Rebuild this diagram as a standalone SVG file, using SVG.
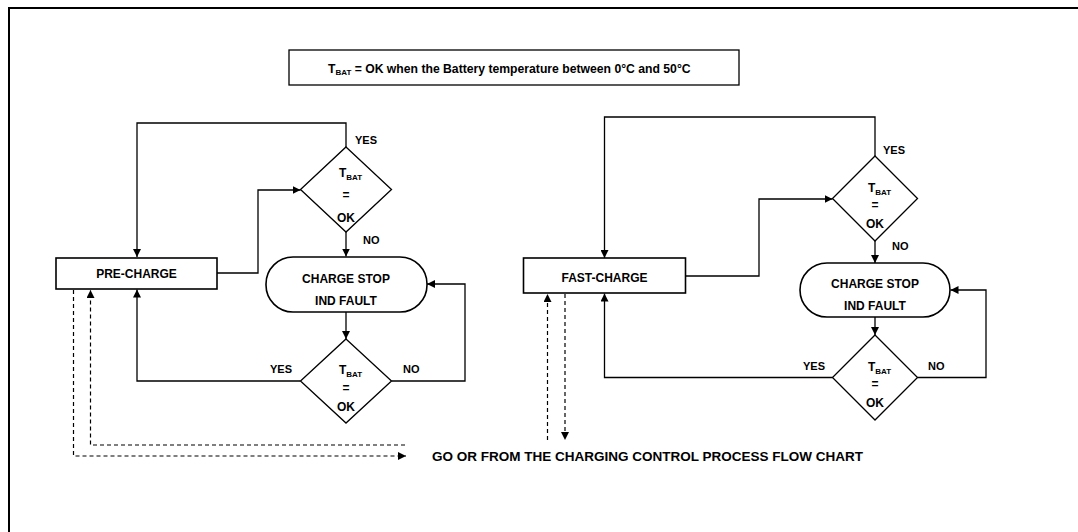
<svg xmlns="http://www.w3.org/2000/svg" width="1078" height="532" viewBox="0 0 1078 532">
<defs>
<style>
text{font-family:"Liberation Sans",Arial,sans-serif;font-weight:bold;fill:#000}
.box{fill:#fff;stroke:#000;stroke-width:1.6}
.dia{fill:#fff;stroke:#000;stroke-width:1.3}
.ln{fill:none;stroke:#000;stroke-width:1.3}
.dash{fill:none;stroke:#000;stroke-width:1.2;stroke-dasharray:4 3}
.lbl{font-size:11px}
.nd{font-size:12px}
.sub{font-size:8px}
</style>
<marker id="ah" viewBox="0 0 10 10" refX="10" refY="5" markerWidth="8" markerHeight="8" markerUnits="userSpaceOnUse" orient="auto">
<path d="M0,0 L10,5 L0,10 z" fill="#000"/>
</marker>
</defs>
<rect width="1078" height="532" fill="#fff"/>
<path d="M9,532 V8 H1078" fill="none" stroke="#000" stroke-width="2"/>

<g id="note">
<rect x="289" y="50" width="450" height="35" fill="#fff" stroke="#000" stroke-width="1.3"/>
<text x="328" y="72.5" font-size="12.2px">T<tspan class="sub" dy="2.5">BAT</tspan><tspan dy="-2.5"> = OK when the Battery temperature between 0°C and 50°C</tspan></text>
</g>

<g id="connectors">
<!-- left chart -->
<path class="ln" d="M346,147 V123 H137 V257" marker-end="url(#ah)"/>
<path class="ln" d="M217,273 H258 V190 H300.5" marker-end="url(#ah)"/>
<path class="ln" d="M346,232 V256.5" marker-end="url(#ah)"/>
<path class="ln" d="M346,312 V339" marker-end="url(#ah)"/>
<path class="ln" d="M300.5,381 H137 V289.5" marker-end="url(#ah)"/>
<path class="ln" d="M391.5,381 H465 V284 H427" marker-end="url(#ah)"/>
<path class="dash" d="M73.5,290 V456 H406" marker-end="url(#ah)"/>
<path class="dash" d="M405,445 H90.5 V290" marker-end="url(#ah)"/>
<!-- right chart -->
<path class="ln" d="M875,156 V117 H604.5 V258" marker-end="url(#ah)"/>
<path class="ln" d="M685.5,276 H759 V199 H832.5" marker-end="url(#ah)"/>
<path class="ln" d="M875,241 V263" marker-end="url(#ah)"/>
<path class="ln" d="M875,317 V335" marker-end="url(#ah)"/>
<path class="ln" d="M832.5,377.5 H604.5 V293.5" marker-end="url(#ah)"/>
<path class="ln" d="M917.5,377.5 H986 V290 H950.5" marker-end="url(#ah)"/>
<path class="dash" d="M547.5,440 V294" marker-end="url(#ah)"/>
<path class="dash" d="M565,294 V440" marker-end="url(#ah)"/>
</g>

<g id="pre-charge">
<rect class="box" x="56" y="258" width="161" height="31"/>
<text class="nd" x="136.5" y="278" text-anchor="middle" font-size="13px">PRE-CHARGE</text>
</g>

<g id="decision-left-1">
<path class="dia" d="M346,147 L391.5,189.5 L346,232 L300.5,189.5 Z"/>
<text class="nd" x="339" y="177">T<tspan class="sub" dy="2.5">BAT</tspan></text>
<text class="nd" x="346" y="198.5" text-anchor="middle">=</text>
<text class="nd" x="346" y="222" text-anchor="middle">OK</text>
<text class="lbl" x="355" y="144">YES</text>
<text class="lbl" x="363" y="243.5">NO</text>
</g>

<g id="stop-left">
<rect class="box" x="266" y="257" width="161" height="55" rx="27" ry="27"/>
<text class="nd" x="346" y="282.5" text-anchor="middle">CHARGE STOP</text>
<text class="nd" x="346" y="305" text-anchor="middle">IND FAULT</text>
</g>

<g id="decision-left-2">
<path class="dia" d="M346,339 L391.5,381 L346,423 L300.5,381 Z"/>
<text class="nd" x="339" y="374">T<tspan class="sub" dy="2.5">BAT</tspan></text>
<text class="nd" x="346" y="391.5" text-anchor="middle">=</text>
<text class="nd" x="346" y="411" text-anchor="middle">OK</text>
<text class="lbl" x="270" y="372.5">YES</text>
<text class="lbl" x="403" y="372.5">NO</text>
</g>

<g id="fast-charge">
<rect class="box" x="523.5" y="258" width="162" height="35"/>
<text class="nd" x="604.5" y="281.5" text-anchor="middle" font-size="13px">FAST-CHARGE</text>
</g>

<g id="decision-right-1">
<path class="dia" d="M875,156 L917.5,198.5 L875,241 L832.5,198.5 Z"/>
<text class="nd" x="868" y="192">T<tspan class="sub" dy="2.5">BAT</tspan></text>
<text class="nd" x="875" y="209" text-anchor="middle">=</text>
<text class="nd" x="875" y="228" text-anchor="middle">OK</text>
<text class="lbl" x="883" y="153.5">YES</text>
<text class="lbl" x="892" y="250">NO</text>
</g>

<g id="stop-right">
<rect class="box" x="800" y="263" width="150" height="54" rx="27" ry="27"/>
<text class="nd" x="875" y="288" text-anchor="middle">CHARGE STOP</text>
<text class="nd" x="875" y="309.5" text-anchor="middle">IND FAULT</text>
</g>

<g id="decision-right-2">
<path class="dia" d="M875,335 L917.5,377.5 L875,420 L832.5,377.5 Z"/>
<text class="nd" x="868" y="371">T<tspan class="sub" dy="2.5">BAT</tspan></text>
<text class="nd" x="875" y="388" text-anchor="middle">=</text>
<text class="nd" x="875" y="407" text-anchor="middle">OK</text>
<text class="lbl" x="803" y="370">YES</text>
<text class="lbl" x="928" y="370">NO</text>
</g>

<g id="external">
<text x="432" y="461" font-size="13.5px">GO OR FROM THE CHARGING CONTROL PROCESS FLOW CHART</text>
</g>
</svg>
